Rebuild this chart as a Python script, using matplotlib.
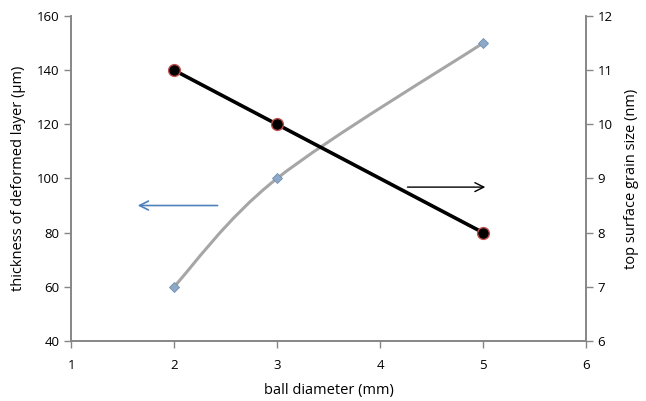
import matplotlib
matplotlib.use("Agg")
import matplotlib.pyplot as plt
from matplotlib.path import Path
from matplotlib.patches import PathPatch

plt.rcParams['font.family'] = ['Open Sans', 'DejaVu Sans']

ball_d = [2, 3, 5]
thickness = [60, 100, 150]      # left axis, um
grain_size = [11, 10, 8]        # right axis, nm

GRAY = "#a6a6a6"
SPINE = "#868686"


def smooth_path(xs, ys, t=1/6):
    # excel-like smoothed line (bezier through points)
    pts = list(zip(xs, ys))
    verts = [pts[0]]
    codes = [Path.MOVETO]
    n = len(pts)
    for i in range(n - 1):
        p0 = pts[i - 1] if i > 0 else pts[i]
        p1 = pts[i]
        p2 = pts[i + 1]
        p3 = pts[i + 2] if i + 2 < n else pts[i + 1]
        c1 = (p1[0] + (p2[0] - p0[0]) * t, p1[1] + (p2[1] - p0[1]) * t)
        c2 = (p2[0] - (p3[0] - p1[0]) * t, p2[1] - (p3[1] - p1[1]) * t)
        verts += [c1, c2, p2]
        codes += [Path.CURVE4] * 3
    return Path(verts, codes)


fig = plt.figure(figsize=(6.46, 4.01), dpi=100)
ax = fig.add_axes([0.110, 0.150, 0.797, 0.810])
ax2 = ax.twinx()

ax.add_patch(PathPatch(smooth_path(ball_d, thickness), fill=False, edgecolor=GRAY, lw=2.2, zorder=2))
ax.plot(ball_d, thickness, ls='none', marker='D', ms=5, mfc="#8ea9c8", mec="#7090b0", mew=0.6, zorder=3)

ax2.plot(ball_d, grain_size, color='black', lw=2.6, marker='o', ms=8.5,
         mfc='black', mec='#c0504d', mew=1.0, zorder=3)

ax.set_xlim(1, 6)
ax.set_ylim(40, 160)
ax2.set_ylim(6, 12)
ax.set_xticks(range(1, 7))
ax.set_yticks(range(40, 161, 20))
ax2.set_yticks(range(6, 13))

for a in (ax, ax2):
    a.spines['top'].set_visible(False)
    for s in ('left', 'right', 'bottom'):
        a.spines[s].set_color(SPINE)
        a.spines[s].set_linewidth(1.2)
    a.tick_params(direction='out', length=5, color=SPINE, labelsize=9.5, width=1)
ax.tick_params(axis='x', pad=8)

ax.set_xlabel("ball diameter (mm)", fontsize=10.5, labelpad=8)
ax.set_ylabel("thickness of deformed layer (\u00b5m)", fontsize=10.5, labelpad=8)
ax2.set_ylabel("top surface grain size (nm)", fontsize=10.5, labelpad=8)

ax.annotate("", xy=(1.62, 90), xytext=(2.45, 90),
            arrowprops=dict(arrowstyle='->', color='#4f81bd', lw=1.2, mutation_scale=16))
ax2.annotate("", xy=(5.05, 8.84), xytext=(4.24, 8.84),
             arrowprops=dict(arrowstyle='->', color='black', lw=1.0, mutation_scale=16))

fig.savefig("out.png", dpi=100)
